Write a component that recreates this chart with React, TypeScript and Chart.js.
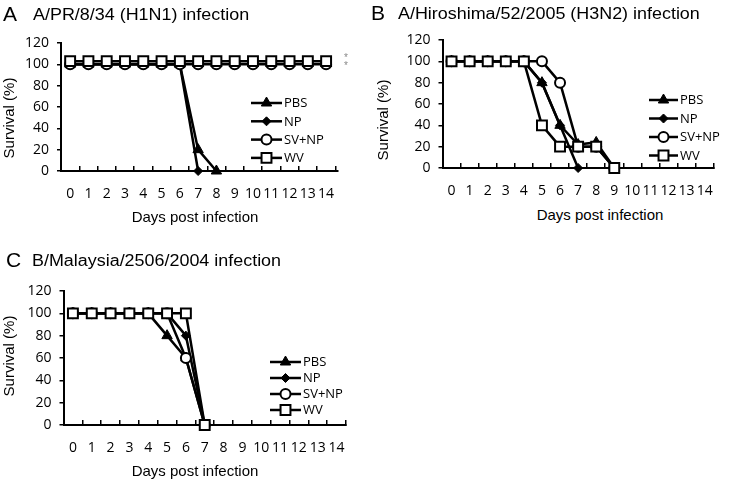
import React, { useEffect, useRef } from "react";
import { Chart, registerables, PointElement } from "chart.js";

Chart.register(...registerables);

// ---------- data ----------
const days = [0, 1, 2, 3, 4, 5, 6, 7, 8, 9, 10, 11, 12, 13, 14];
const seriesLabels = ["PBS", "NP", "SV+NP", "WV"];
const panelLetters = ["A", "B", "C"];
const panelTitles = [
  "A/PR/8/34 (H1N1) infection",
  "A/Hiroshima/52/2005 (H3N2) infection",
  "B/Malaysia/2506/2004 infection",
];
const xAxisTitle = "Days post infection";
const yAxisTitle = "Survival (%)";
const yMin = 0;
const yMax = 120;
const yStep = 20;

// Panel A – A/PR/8/34 (H1N1)
const aPBS = [100, 100, 100, 100, 100, 100, 100, 20, 0, null, null, null, null, null, null];
const aNP = [100, 100, 100, 100, 100, 100, 100, 0, null, null, null, null, null, null, null];
const aSVNP = [100, 100, 100, 100, 100, 100, 100, 100, 100, 100, 100, 100, 100, 100, 100];
const aWV = [103, 103, 103, 103, 103, 103, 103, 103, 103, 103, 103, 103, 103, 103, 103];

// Panel B – A/Hiroshima/52/2005 (H3N2)
const bPBS = [100, 100, 100, 100, 100, 80, 40, 22, 24, 0, null, null, null, null, null];
const bNP = [100, 100, 100, 100, 100, 80, 40, 0, null, null, null, null, null, null, null];
const bSVNP = [100, 100, 100, 100, 100, 100, 80, 20, 20, 0, null, null, null, null, null];
const bWV = [100, 100, 100, 100, 100, 40, 20, 20, 20, 0, null, null, null, null, null];

// Panel C – B/Malaysia/2506/2004
const cPBS = [100, 100, 100, 100, 100, 80, 60, 0, null, null, null, null, null, null, null];
const cNP = [100, 100, 100, 100, 100, 100, 80, 0, null, null, null, null, null, null, null];
const cSVNP = [100, 100, 100, 100, 100, 100, 60, 0, null, null, null, null, null, null, null];
const cWV = [100, 100, 100, 100, 100, 100, 100, 0, null, null, null, null, null, null, null];

// ---------- styles ----------
const markerStyles = [
  { style: "triangle", radius: 6, fill: "#000", bw: 1 },
  { style: "rectRot", radius: 4.5, fill: "#000", bw: 1 },
  { style: "circle", radius: 5, fill: "#fff", bw: 2 },
  { style: "rect", radius: 7, fill: "#fff", bw: 2 },
];

const TICK_FONT = { family: '"Open Sans", "DejaVu Sans", sans-serif', size: 14 };
const LEGEND_FONT = '13px "Open Sans", "DejaVu Sans", sans-serif';
const TEXT_FAMILY = '"Liberation Sans", Arial, sans-serif';

type Spec = {
  series: (number | null)[][];
  xMin: number;
  xMax: number;
  canvas: { left: number; top: number; width: number; height: number };
  padTop: number;
  padRight: number;
  yWidth: number;
  xHeight: number;
  xTickPad: number;
  legend: { x: number; y: number; gap: number; lineLen: number };
};

const specs: Spec[] = [
  {
    series: [aPBS, aNP, aSVNP, aWV],
    xMin: -0.5,
    xMax: 14.65,
    canvas: { left: 0, top: 0, width: 365, height: 205 },
    padTop: 43,
    padRight: 27,
    yWidth: 61,
    xHeight: 34,
    xTickPad: 20,
    legend: { x: 251, y: 103, gap: 18.3, lineLen: 31 },
  },
  {
    series: [bPBS, bNP, bSVNP, bWV],
    xMin: -0.5,
    xMax: 14.5,
    canvas: { left: 365, top: 0, width: 368, height: 205 },
    padTop: 40,
    padRight: 2.5,
    yWidth: 77.5,
    xHeight: 37,
    xTickPad: 20,
    legend: { x: 284, y: 100, gap: 18.5, lineLen: 29 },
  },
  {
    series: [cPBS, cNP, cSVNP, cWV],
    xMin: -0.5,
    xMax: 14.5,
    canvas: { left: 0, top: 250, width: 365, height: 225 },
    padTop: 41,
    padRight: 14,
    yWidth: 63.5,
    xHeight: 50,
    xTickPad: 20,
    legend: { x: 270, y: 112, gap: 16, lineLen: 31 },
  },
];

// legend drawn inside the plot, line + marker + label
const insideLegend = {
  id: "insideLegend",
  afterDatasetsDraw(chart: any, _args: any, opts: any) {
    const ctx = chart.ctx;
    chart.data.datasets.forEach((ds: any, i: number) => {
      const yy = opts.y + i * opts.gap;
      ctx.save();
      ctx.strokeStyle = ds.borderColor;
      ctx.lineWidth = ds.borderWidth;
      ctx.beginPath();
      ctx.moveTo(opts.x, yy);
      ctx.lineTo(opts.x + opts.lineLen, yy);
      ctx.stroke();
      const meta = chart.getDatasetMeta(i);
      const el = meta.data.find((p: any) => p && p.options);
      if (el) {
        const pt: any = new (PointElement as any)({ x: opts.x + opts.lineLen / 2, y: yy, options: el.options });
        pt.draw(ctx);
      }
      ctx.fillStyle = "#000";
      ctx.font = LEGEND_FONT;
      ctx.textBaseline = "middle";
      ctx.textAlign = "left";
      ctx.fillText(ds.label, opts.x + opts.lineLen + 2, yy + 0.5);
      ctx.restore();
    });
  },
};

function buildConfig(spec: Spec): any {
  return {
    type: "line",
    data: {
      datasets: spec.series.map((vals, i) => ({
        label: seriesLabels[i],
        data: days.map((d, j) => ({ x: d, y: vals[j] })),
        borderColor: "#000",
        borderWidth: 2.5,
        pointStyle: markerStyles[i].style,
        pointRadius: markerStyles[i].radius,
        pointBackgroundColor: markerStyles[i].fill,
        pointBorderColor: "#000",
        pointBorderWidth: markerStyles[i].bw,
        order: seriesLabels.length - i,
        clip: false,
        tension: 0,
        spanGaps: false,
      })),
    },
    options: {
      animation: false,
      responsive: false,
      maintainAspectRatio: false,
      events: [],
      layout: { padding: { top: spec.padTop, right: spec.padRight, left: 0, bottom: 0 } },
      plugins: {
        legend: { display: false },
        tooltip: { enabled: false },
        insideLegend: spec.legend,
      },
      scales: {
        x: {
          type: "linear",
          min: spec.xMin,
          max: spec.xMax,
          afterBuildTicks: (s: any) => {
            s.ticks = days.map((d) => ({ value: d }));
          },
          afterFit: (s: any) => {
            s.height = spec.xHeight;
          },
          ticks: {
            autoSkip: false,
            maxRotation: 0,
            minRotation: 0,
            padding: spec.xTickPad,
            color: "#000",
            font: TICK_FONT,
            callback: (v: any) => String(v),
          },
          grid: {
            offset: true,
            drawOnChartArea: false,
            drawTicks: true,
            tickLength: -5,
            color: "#000",
            lineWidth: 1.5,
          },
          border: { display: true, color: "#000", width: 2 },
        },
        y: {
          min: yMin,
          max: yMax,
          afterFit: (s: any) => {
            s.width = spec.yWidth;
          },
          ticks: { stepSize: yStep, padding: 8, color: "#000", font: TICK_FONT },
          grid: {
            drawOnChartArea: false,
            drawTicks: true,
            tickLength: 4,
            color: "#000",
            lineWidth: 1.5,
          },
          border: { display: true, color: "#000", width: 2 },
        },
      },
    },
    plugins: [insideLegend],
  };
}

function PanelChart({ spec }: { spec: Spec }) {
  const ref = useRef<HTMLCanvasElement>(null);
  useEffect(() => {
    const chart = new Chart(ref.current as HTMLCanvasElement, buildConfig(spec));
    return () => chart.destroy();
  }, [spec]);
  const c = spec.canvas;
  return (
    <canvas
      ref={ref}
      width={c.width}
      height={c.height}
      style={{ position: "absolute", left: c.left, top: c.top, width: c.width, height: c.height }}
    />
  );
}

// text helpers (baseline-positioned, line-height 1)
const BASE = 0.8465;

function Txt(props: {
  x: number;
  baseline: number;
  size: number;
  text: string;
  center?: boolean;
  sx?: number;
  color?: string;
}) {
  const { x, baseline, size, text, center, sx, color } = props;
  const tf: string[] = [];
  if (center) tf.push("translateX(-50%)");
  if (sx) tf.push(`scaleX(${sx})`);
  return (
    <div
      style={{
        position: "absolute",
        left: x,
        top: baseline - BASE * size,
        fontFamily: TEXT_FAMILY,
        fontSize: size,
        lineHeight: 1,
        whiteSpace: "nowrap",
        color: color || "#000",
        transform: tf.join(" ") || undefined,
        transformOrigin: center ? "50% 50%" : "0 50%",
      }}
    >
      {text}
    </div>
  );
}

function VTxt({ cx, cy, size, text }: { cx: number; cy: number; size: number; text: string }) {
  return (
    <div
      style={{
        position: "absolute",
        left: cx,
        top: cy,
        fontFamily: TEXT_FAMILY,
        fontSize: size,
        lineHeight: 1,
        whiteSpace: "nowrap",
        color: "#000",
        transform: "translate(-50%, -50%) rotate(-90deg)",
      }}
    >
      {text}
    </div>
  );
}

const letterPos = [
  { x: 3, b: 20.5 },
  { x: 371, b: 20 },
  { x: 6, b: 267 },
];
const titlePos = [
  { x: 33, b: 20.5 },
  { x: 398, b: 20 },
  { x: 32, b: 267 },
];
const xTitlePos = [
  { x: 195, b: 222 },
  { x: 600, b: 220 },
  { x: 195, b: 476 },
];
const yTitlePos = [
  { x: 8, y: 118 },
  { x: 382, y: 120 },
  { x: 8, y: 356 },
];

export default function App() {
  return (
    <div
      style={{
        position: "fixed",
        left: 0,
        top: 0,
        width: 733,
        height: 480,
        background: "#fff",
        overflow: "hidden",
      }}
    >
      {specs.map((s, i) => (
        <PanelChart key={i} spec={s} />
      ))}
      {panelLetters.map((l, i) => (
        <Txt key={"l" + i} x={letterPos[i].x} baseline={letterPos[i].b} size={21} text={l} />
      ))}
      {panelTitles.map((t, i) => (
        <Txt key={"t" + i} x={titlePos[i].x} baseline={titlePos[i].b} size={16} sx={1.12} text={t} />
      ))}
      {xTitlePos.map((p, i) => (
        <Txt key={"x" + i} x={p.x} baseline={p.b} size={15} center text={xAxisTitle} />
      ))}
      {yTitlePos.map((p, i) => (
        <VTxt key={"y" + i} cx={p.x} cy={p.y} size={15} text={yAxisTitle} />
      ))}
      <Txt x={344} baseline={61} size={10} text="*" color="#888" />
      <Txt x={344} baseline={69.5} size={10} text="*" color="#888" />
    </div>
  );
}
